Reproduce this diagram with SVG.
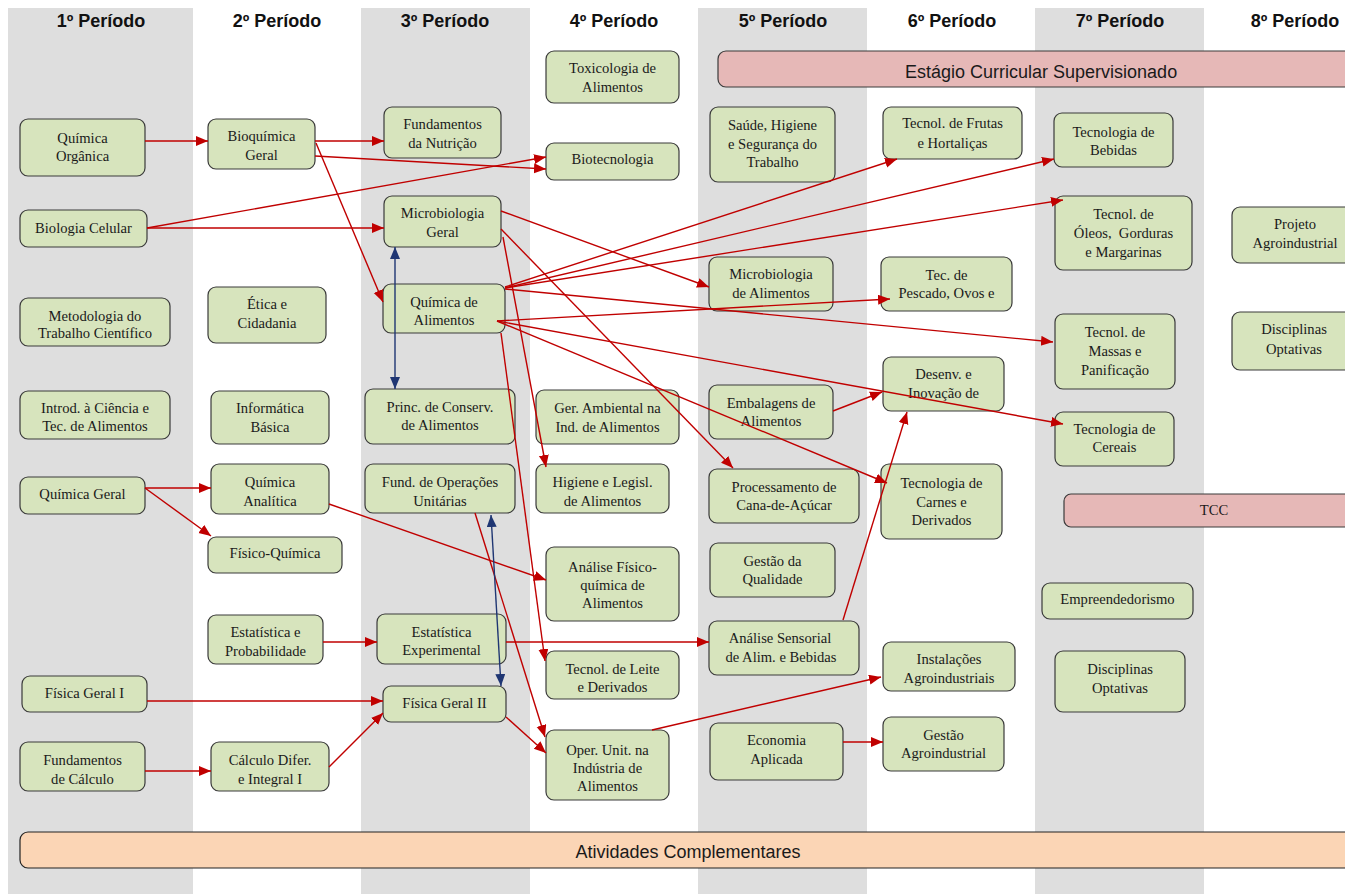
<svg xmlns="http://www.w3.org/2000/svg" width="1345" height="894" viewBox="0 0 1345 894">
<style>
.band{fill:#DEDEDE}
.hdr{font-family:"Liberation Sans",Arial,sans-serif;font-weight:bold;font-size:18px;fill:#111;text-anchor:middle}
.n rect{fill:#D7E4BD;stroke:#3A3A3A;stroke-width:1.2}
.n text{font-family:"Liberation Serif","Times New Roman",serif;font-size:14.6px;fill:#1a1a1a;text-anchor:middle}
.pink rect{fill:#E6B8B7;stroke:#3A3A3A;stroke-width:1.2}
.peach rect{fill:#FBD5B5;stroke:#222;stroke-width:1.2}
.big{font-family:"Liberation Sans",Arial,sans-serif;font-size:18px;fill:#1a1a1a}
.r{stroke:#C00000;stroke-width:1.4;fill:none;marker-end:url(#ar)}
.b{stroke:#1F3673;stroke-width:1.4;fill:none;marker-end:url(#ab);marker-start:url(#ab)}
</style>
<defs>
<marker id="ar" markerUnits="userSpaceOnUse" markerWidth="13" markerHeight="11" refX="12" refY="5" orient="auto"><path d="M0,0 L12,5 L0,10 z" fill="#C00000"/></marker>
<marker id="ab" markerUnits="userSpaceOnUse" markerWidth="13" markerHeight="11" refX="12" refY="5" orient="auto-start-reverse"><path d="M0,0 L12,5 L0,10 z" fill="#1F3673"/></marker>
</defs>
<rect width="1345" height="894" fill="#fff"/>
<g id="bands">
<rect class="band" x="8" y="8" width="185" height="886"/>
<rect class="band" x="361" y="8" width="169" height="886"/>
<rect class="band" x="698" y="8" width="169" height="886"/>
<rect class="band" x="1035" y="8" width="169" height="886"/>
</g>
<g id="headers">
<text class="hdr" x="101" y="27">1º Período</text>
<text class="hdr" x="277" y="27">2º Período</text>
<text class="hdr" x="445" y="27">3º Período</text>
<text class="hdr" x="614" y="27">4º Período</text>
<text class="hdr" x="783" y="27">5º Período</text>
<text class="hdr" x="952" y="27">6º Período</text>
<text class="hdr" x="1120" y="27">7º Período</text>
<text class="hdr" x="1295" y="27">8º Período</text>
</g>
<g id="estagio" class="pink"><rect x="718" y="51" width="660" height="36" rx="8"/><text class="big" x="905" y="78">Estágio Curricular Supervisionado</text></g>
<g id="tcc" class="pink n"><rect x="1064" y="494" width="300" height="33" rx="7" style="fill:#E6B8B7"/><text x="1214" y="515">TCC</text></g>
<g id="atividades" class="peach"><rect x="20" y="832" width="1360" height="36" rx="8"/><text class="big" x="688" y="858" text-anchor="middle">Atividades Complementares</text></g>

<g id="quimica-organica" class="n"><rect x="20" y="119" width="125" height="57" rx="8"/><text><tspan x="82.5" y="143">Química</tspan><tspan x="82.5" y="161">Orgânica</tspan></text></g>
<g id="bioquimica-geral" class="n"><rect x="208" y="119" width="107" height="50" rx="8"/><text><tspan x="261.5" y="141">Bioquímica</tspan><tspan x="261.5" y="160">Geral</tspan></text></g>
<g id="biologia-celular" class="n"><rect x="20" y="210" width="127" height="37" rx="8"/><text x="83.5" y="233">Biologia Celular</text></g>
<g id="metodologia" class="n"><rect x="20" y="298" width="150" height="48" rx="8"/><text><tspan x="95" y="321">Metodologia do</tspan><tspan x="95" y="338">Trabalho Científico</tspan></text></g>
<g id="introd" class="n"><rect x="20" y="391" width="150" height="48" rx="8"/><text><tspan x="95" y="413">Introd. à Ciência e</tspan><tspan x="95" y="431">Tec. de Alimentos</tspan></text></g>
<g id="quimica-geral" class="n"><rect x="20" y="477" width="125" height="37" rx="8"/><text x="82.5" y="499">Química Geral</text></g>
<g id="fisica-geral-1" class="n"><rect x="22" y="676" width="125" height="36" rx="8"/><text x="84.5" y="698">Física Geral I</text></g>
<g id="fundamentos-calculo" class="n"><rect x="20" y="742" width="125" height="49" rx="8"/><text><tspan x="82.5" y="765">Fundamentos</tspan><tspan x="82.5" y="784">de Cálculo</tspan></text></g>

<g id="etica" class="n"><rect x="208" y="287" width="118" height="56" rx="8"/><text><tspan x="267" y="309">Ética e</tspan><tspan x="267" y="328">Cidadania</tspan></text></g>
<g id="informatica" class="n"><rect x="211" y="391" width="118" height="53" rx="8"/><text><tspan x="270" y="413">Informática</tspan><tspan x="270" y="432">Básica</tspan></text></g>
<g id="quimica-analitica" class="n"><rect x="211" y="464" width="118" height="50" rx="8"/><text><tspan x="270" y="487">Química</tspan><tspan x="270" y="506">Analítica</tspan></text></g>
<g id="fisico-quimica" class="n"><rect x="208" y="537" width="134" height="36" rx="8"/><text x="275" y="558">Físico-Química</text></g>
<g id="estatistica-prob" class="n"><rect x="208" y="615" width="115" height="49" rx="8"/><text><tspan x="265.5" y="637">Estatística e</tspan><tspan x="265.5" y="656">Probabilidade</tspan></text></g>
<g id="calculo" class="n"><rect x="211" y="742" width="118" height="49" rx="8"/><text><tspan x="270" y="765">Cálculo Difer.</tspan><tspan x="270" y="784">e Integral I</tspan></text></g>

<g id="fund-nutricao" class="n"><rect x="384" y="107" width="117" height="51" rx="8"/><text><tspan x="442.5" y="129">Fundamentos</tspan><tspan x="442.5" y="148">da Nutrição</tspan></text></g>
<g id="micro-geral" class="n"><rect x="384" y="196" width="117" height="51" rx="8"/><text><tspan x="442.5" y="218">Microbiologia</tspan><tspan x="442.5" y="237">Geral</tspan></text></g>
<g id="quimica-alimentos" class="n"><rect x="383" y="284" width="122" height="49" rx="8"/><text><tspan x="444" y="307">Química de</tspan><tspan x="444" y="325">Alimentos</tspan></text></g>
<g id="princ-conserv" class="n"><rect x="365" y="389" width="150" height="55" rx="8"/><text><tspan x="440" y="412">Princ. de Conserv.</tspan><tspan x="440" y="430">de Alimentos</tspan></text></g>
<g id="fund-operacoes" class="n"><rect x="365" y="464" width="150" height="49" rx="8"/><text><tspan x="440" y="487">Fund. de Operações</tspan><tspan x="440" y="506">Unitárias</tspan></text></g>
<g id="estatistica-exp" class="n"><rect x="377" y="614" width="129" height="50" rx="8"/><text><tspan x="441.5" y="637">Estatística</tspan><tspan x="441.5" y="655">Experimental</tspan></text></g>
<g id="fisica-geral-2" class="n"><rect x="383" y="686" width="123" height="36" rx="8"/><text x="444.5" y="708">Física Geral II</text></g>

<g id="toxicologia" class="n"><rect x="546" y="51" width="133" height="52" rx="8"/><text><tspan x="612.5" y="73">Toxicologia de</tspan><tspan x="612.5" y="92">Alimentos</tspan></text></g>
<g id="biotecnologia" class="n"><rect x="546" y="143" width="133" height="37" rx="8"/><text x="612.5" y="164">Biotecnologia</text></g>
<g id="ger-ambiental" class="n"><rect x="536" y="390" width="143" height="54" rx="8"/><text><tspan x="607.5" y="413">Ger. Ambiental na</tspan><tspan x="607.5" y="432">Ind. de Alimentos</tspan></text></g>
<g id="higiene" class="n"><rect x="536" y="464" width="133" height="49" rx="8"/><text><tspan x="602.5" y="487">Higiene e Legisl.</tspan><tspan x="602.5" y="506">de Alimentos</tspan></text></g>
<g id="analise-fq" class="n"><rect x="546" y="547" width="133" height="74" rx="8"/><text><tspan x="612.5" y="572">Análise Físico-</tspan><tspan x="612.5" y="590">química de</tspan><tspan x="612.5" y="608">Alimentos</tspan></text></g>
<g id="leite" class="n"><rect x="546" y="651" width="133" height="48" rx="8"/><text><tspan x="612.5" y="674">Tecnol. de Leite</tspan><tspan x="612.5" y="692">e Derivados</tspan></text></g>
<g id="oper-unit" class="n"><rect x="546" y="730" width="123" height="70" rx="8"/><text><tspan x="607.5" y="755">Oper. Unit. na</tspan><tspan x="607.5" y="773">Indústria de</tspan><tspan x="607.5" y="791">Alimentos</tspan></text></g>

<g id="saude" class="n"><rect x="710" y="107" width="125" height="75" rx="8"/><text><tspan x="772.5" y="130">Saúde, Higiene</tspan><tspan x="772.5" y="149">e Segurança do</tspan><tspan x="772.5" y="167">Trabalho</tspan></text></g>
<g id="micro-alimentos" class="n"><rect x="709" y="257" width="124" height="54" rx="8"/><text><tspan x="771" y="279">Microbiologia</tspan><tspan x="771" y="298">de Alimentos</tspan></text></g>
<g id="embalagens" class="n"><rect x="709" y="385" width="124" height="54" rx="8"/><text><tspan x="771" y="408">Embalagens de</tspan><tspan x="771" y="426">Alimentos</tspan></text></g>
<g id="cana" class="n"><rect x="709" y="469" width="150" height="54" rx="8"/><text><tspan x="784" y="492">Processamento de</tspan><tspan x="784" y="510">Cana-de-Açúcar</tspan></text></g>
<g id="gestao-qualidade" class="n"><rect x="710" y="543" width="125" height="54" rx="8"/><text><tspan x="772.5" y="566">Gestão da</tspan><tspan x="772.5" y="584">Qualidade</tspan></text></g>
<g id="analise-sensorial" class="n"><rect x="709" y="621" width="150" height="54" rx="8"/><text><tspan x="780" y="643">Análise Sensorial</tspan><tspan x="781" y="662">de Alim. e Bebidas</tspan></text></g>
<g id="economia" class="n"><rect x="710" y="723" width="133" height="57" rx="8"/><text><tspan x="776.5" y="745">Economia</tspan><tspan x="776.5" y="764">Aplicada</tspan></text></g>

<g id="frutas" class="n"><rect x="883" y="107" width="139" height="52" rx="8"/><text><tspan x="952.5" y="128">Tecnol. de Frutas</tspan><tspan x="952.5" y="148">e Hortaliças</tspan></text></g>
<g id="pescado" class="n"><rect x="881" y="257" width="131" height="54" rx="8"/><text><tspan x="946.5" y="280">Tec. de</tspan><tspan x="946.5" y="298">Pescado, Ovos e</tspan></text></g>
<g id="desenv" class="n"><rect x="883" y="357" width="121" height="54" rx="8"/><text><tspan x="943.5" y="379">Desenv. e</tspan><tspan x="943.5" y="398">Inovação de</tspan></text></g>
<g id="carnes" class="n"><rect x="881" y="464" width="121" height="75" rx="8"/><text><tspan x="941.5" y="488">Tecnologia de</tspan><tspan x="941.5" y="507">Carnes e</tspan><tspan x="941.5" y="525">Derivados</tspan></text></g>
<g id="instalacoes" class="n"><rect x="883" y="642" width="132" height="49" rx="8"/><text><tspan x="949" y="664">Instalações</tspan><tspan x="949" y="683">Agroindustriais</tspan></text></g>
<g id="gestao-agro" class="n"><rect x="883" y="717" width="121" height="54" rx="8"/><text><tspan x="943.5" y="740">Gestão</tspan><tspan x="943.5" y="758">Agroindustrial</tspan></text></g>

<g id="bebidas" class="n"><rect x="1054" y="113" width="119" height="54" rx="8"/><text><tspan x="1113.5" y="137">Tecnologia de</tspan><tspan x="1113.5" y="155">Bebidas</tspan></text></g>
<g id="oleos" class="n"><rect x="1055" y="196" width="137" height="74" rx="8"/><text><tspan x="1123.5" y="219">Tecnol. de</tspan><tspan x="1123.5" y="238" xml:space="preserve">Óleos,  Gorduras</tspan><tspan x="1123.5" y="257">e Margarinas</tspan></text></g>
<g id="massas" class="n"><rect x="1055" y="314" width="120" height="75" rx="8"/><text><tspan x="1115" y="337">Tecnol. de</tspan><tspan x="1115" y="356">Massas e</tspan><tspan x="1115" y="375">Panificação</tspan></text></g>
<g id="cereais" class="n"><rect x="1055" y="412" width="119" height="54" rx="8"/><text><tspan x="1114.5" y="434">Tecnologia de</tspan><tspan x="1114.5" y="452">Cereais</tspan></text></g>
<g id="empreendedorismo" class="n"><rect x="1042" y="583" width="151" height="36" rx="8"/><text x="1117.5" y="604">Empreendedorismo</text></g>
<g id="optativas-7" class="n"><rect x="1055" y="651" width="130" height="61" rx="8"/><text><tspan x="1120" y="674">Disciplinas</tspan><tspan x="1120" y="693">Optativas</tspan></text></g>

<g id="projeto" class="n"><rect x="1232" y="207" width="130" height="56" rx="8"/><text><tspan x="1295" y="229">Projeto</tspan><tspan x="1295" y="248">Agroindustrial</tspan></text></g>
<g id="optativas-8" class="n"><rect x="1232" y="312" width="130" height="58" rx="8"/><text><tspan x="1294" y="334">Disciplinas</tspan><tspan x="1294" y="354">Optativas</tspan></text></g>

<g id="connectors">
<line class="r" x1="145" y1="141" x2="208" y2="141"/>
<line class="r" x1="315" y1="141" x2="384" y2="141"/>
<line class="r" x1="315" y1="156" x2="546" y2="169"/>
<line class="r" x1="147" y1="228" x2="546" y2="157"/>
<line class="r" x1="147" y1="228" x2="384" y2="228"/>
<line class="r" x1="316" y1="143" x2="383" y2="302"/>
<line class="b" x1="395" y1="247" x2="395" y2="389"/>
<line class="r" x1="501" y1="211" x2="709" y2="287"/>
<line class="r" x1="501" y1="229" x2="733" y2="468"/>
<line class="r" x1="503" y1="237" x2="546" y2="467"/>
<line class="r" x1="505" y1="287" x2="897" y2="159"/>
<line class="r" x1="505" y1="288" x2="1054" y2="159"/>
<line class="r" x1="505" y1="288" x2="1063" y2="200"/>
<line class="r" x1="505" y1="289" x2="1053" y2="342"/>
<line class="r" x1="497" y1="321" x2="890" y2="299"/>
<line class="r" x1="497" y1="321" x2="1063" y2="424"/>
<line class="r" x1="497" y1="321" x2="887" y2="483"/>
<line class="r" x1="501" y1="333" x2="545" y2="661"/>
<line class="r" x1="329" y1="504" x2="546" y2="580"/>
<line class="r" x1="475" y1="513" x2="545" y2="737"/>
<line class="b" x1="491" y1="515" x2="501" y2="686"/>
<line class="r" x1="506" y1="717" x2="546" y2="753"/>
<line class="r" x1="323" y1="642" x2="377" y2="642"/>
<line class="r" x1="506" y1="642" x2="709" y2="642"/>
<line class="r" x1="147" y1="701" x2="383" y2="701"/>
<line class="r" x1="145" y1="771" x2="211" y2="771"/>
<line class="r" x1="329" y1="767" x2="383" y2="713"/>
<line class="r" x1="145" y1="488" x2="211" y2="488"/>
<line class="r" x1="145" y1="488" x2="211" y2="536"/>
<line class="r" x1="652" y1="730" x2="881" y2="677"/>
<line class="r" x1="843" y1="742" x2="883" y2="742"/>
<line class="r" x1="843" y1="620" x2="907" y2="412"/>
<line class="r" x1="833" y1="411" x2="882" y2="392"/>
</g>
</svg>
